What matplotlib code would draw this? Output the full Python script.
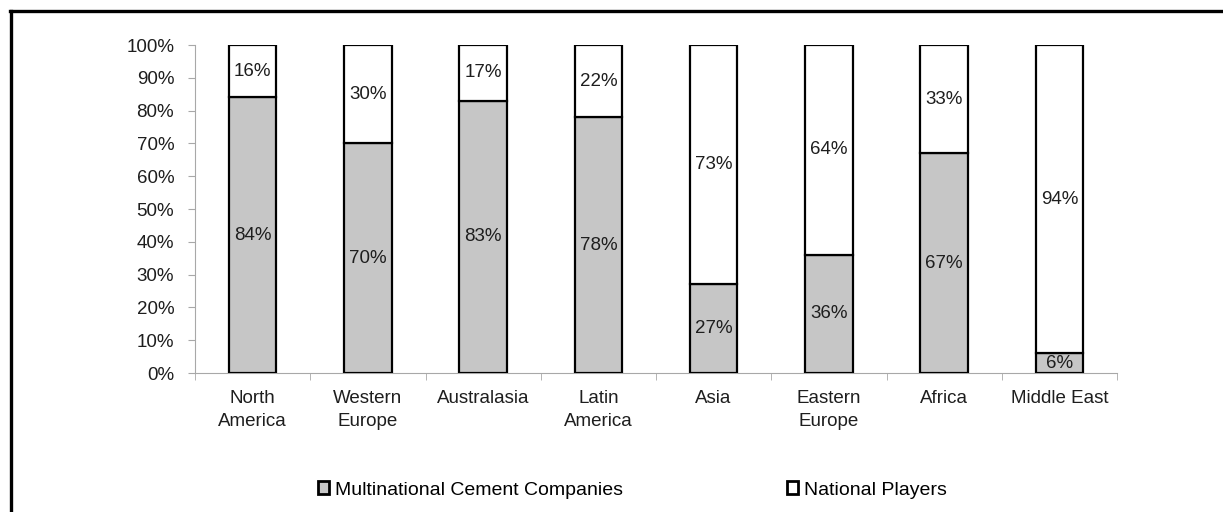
import matplotlib.pyplot as plt
from matplotlib.lines import Line2D
from matplotlib.patches import Patch
import numpy as np

plt.rcParams['font.family'] = ['Liberation Sans', 'DejaVu Sans']

regions = ['North\nAmerica', 'Western\nEurope', 'Australasia', 'Latin\nAmerica',
           'Asia', 'Eastern\nEurope', 'Africa', 'Middle East']
multinational = [84, 70, 83, 78, 27, 36, 67, 6]
national = [16, 30, 17, 22, 73, 64, 33, 94]

gray = '#c6c6c6'
axis_gray = '#a8a8a8'
txt = '#1e1e1e'
fs = 13.5

fig = plt.figure(figsize=(12.23, 5.12), dpi=100)
ax = fig.add_axes([195 / 1223, 1 - 373 / 512, (1117 - 195) / 1223, (373 - 45) / 512])

x = np.arange(len(regions))
w = 0.41
ax.bar(x, multinational, w, color=gray, edgecolor='black', linewidth=1.6, zorder=3)
ax.bar(x, national, w, bottom=multinational, color='white', edgecolor='black',
       linewidth=1.6, zorder=3)

for i in range(len(regions)):
    ax.text(x[i], multinational[i] / 2, f'{multinational[i]}%', ha='center', va='center',
            fontsize=fs, color=txt, zorder=4)
    ax.text(x[i], multinational[i] + national[i] / 2, f'{national[i]}%', ha='center',
            va='center', fontsize=fs, color=txt, zorder=4)

ax.set_xlim(-0.5, len(regions) - 0.5)
ax.set_ylim(0, 100)
ax.set_yticks(range(0, 101, 10))
ax.set_yticklabels([f'{v}%' for v in range(0, 101, 10)], fontsize=fs, color=txt)
ax.set_xticks(x)
ax.set_xticklabels(regions, fontsize=fs, color=txt, linespacing=1.45)
ax.set_xticks(np.arange(-0.5, len(regions), 1), minor=True)
ax.tick_params(axis='x', which='major', length=0, pad=12)
ax.tick_params(axis='x', which='minor', length=5, color=axis_gray)
ax.tick_params(axis='y', length=5, color=axis_gray, pad=10)
for s in ['top', 'right']:
    ax.spines[s].set_visible(False)
for s in ['left', 'bottom']:
    ax.spines[s].set_color(axis_gray)

# legend
h1 = Patch(facecolor=gray, edgecolor='black', linewidth=2)
h2 = Patch(facecolor='white', edgecolor='black', linewidth=2)
leg_kw = dict(frameon=False, handlelength=0.6, handleheight=0.6, handletextpad=0.3,
              fontsize=fs + 0.5, loc='center left', borderaxespad=0)
fig.legend([h1], ['Multinational Cement Companies'],
           bbox_to_anchor=(310 / 1223, 1 - 490 / 512), **leg_kw)
fig.legend([h2], ['National Players'],
           bbox_to_anchor=(779 / 1223, 1 - 490 / 512), **leg_kw)

# frame lines (top and left)
fig.add_artist(Line2D([10 / 1223, 1], [1 - 11 / 512, 1 - 11 / 512], color='black',
                      linewidth=2.4, transform=fig.transFigure))
fig.add_artist(Line2D([11 / 1223, 11 / 1223], [0, 1 - 11 / 512], color='black',
                      linewidth=2.4, transform=fig.transFigure))

fig.savefig('out.png', dpi=100)
